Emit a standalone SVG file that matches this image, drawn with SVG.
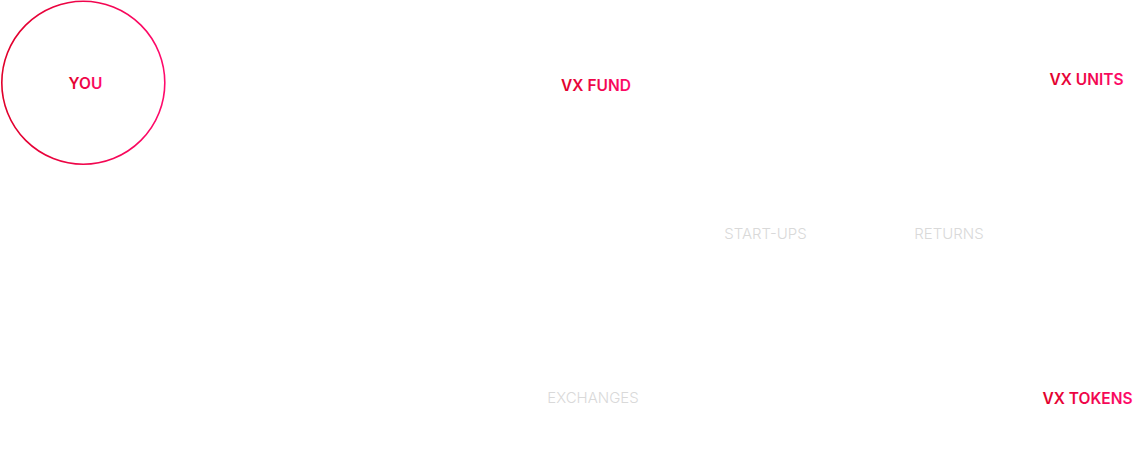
<svg xmlns="http://www.w3.org/2000/svg" width="1145" height="456" viewBox="0 0 1145 456">
<defs>
<linearGradient id="red" x1="0" y1="0" x2="1" y2="0">
<stop offset="0" stop-color="#e0002a"/>
<stop offset="1" stop-color="#ff0a6c"/>
</linearGradient>
</defs>
<style>
.hl{font-family:Inter,"Liberation Sans",sans-serif;font-size:15.5px;font-weight:600;fill:url(#red);text-anchor:middle;dominant-baseline:central}
.dim{font-family:Inter,"Liberation Sans",sans-serif;font-size:15px;font-weight:300;fill:#d9d9d9;text-anchor:middle;dominant-baseline:central}
</style>
<rect width="1145" height="456" fill="#fff"/>
<g id="connectors"></g>
<g id="you">
<circle cx="83.3" cy="82.7" r="81.5" fill="none" stroke="url(#red)" stroke-width="1.6"/>
<text class="hl" x="85.5" y="83">YOU</text>
</g>
<g id="vx-fund"><text class="hl" x="596" y="85">VX FUND</text></g>
<g id="vx-units"><text class="hl" x="1086.5" y="79">VX UNITS</text></g>
<g id="start-ups"><text class="dim" x="765.5" y="233.5">START-UPS</text></g>
<g id="returns"><text class="dim" x="949" y="233.5">RETURNS</text></g>
<g id="exchanges"><text class="dim" x="593" y="397.5">EXCHANGES</text></g>
<g id="vx-tokens"><text class="hl" x="1087.5" y="398">VX TOKENS</text></g>
</svg>
